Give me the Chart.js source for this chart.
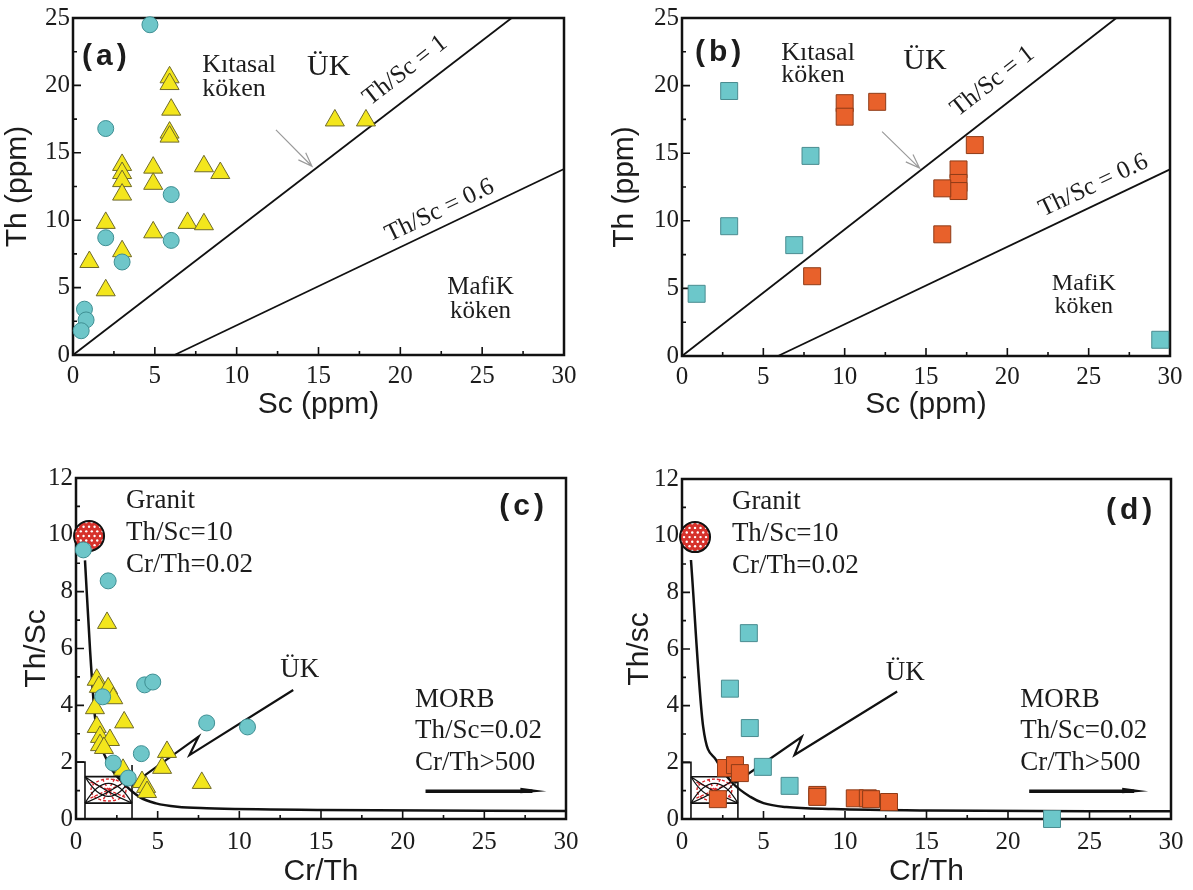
<!DOCTYPE html>
<html>
<head>
<meta charset="utf-8">
<script src="https://cdn.jsdelivr.net/npm/chart.js@4.4.1/dist/chart.umd.min.js"></script>
<style>
  body { margin: 0; background: #fff; width: 1193px; height: 890px; position: relative; overflow: hidden; }
  canvas { position: absolute; }
</style>
</head>
<body>
<canvas id="chartA" width="596" height="430" style="left:0;top:0"></canvas>
<canvas id="chartB" width="593" height="430" style="left:600px;top:0"></canvas>
<canvas id="chartC" width="596" height="445" style="left:0;top:445px"></canvas>
<canvas id="chartD" width="593" height="445" style="left:600px;top:445px"></canvas>
<script>
// (a) Th vs Sc
const aCircleSc = [4.7, 2.0, 6.0, 2.0, 6.0, 3.0, 0.7, 0.8, 0.5];
const aCircleTh = [24.5, 16.8, 11.9, 8.7, 8.5, 6.9, 3.4, 2.6, 1.8];
const aTriSc = [5.9, 5.9, 6.0, 5.9, 5.9, 3.0, 3.0, 3.0, 3.0, 4.9, 4.9, 8.0, 9.0, 2.0, 4.9, 7.0, 8.0, 3.0, 1.0, 2.0, 16.0, 17.9];
const aTriTh = [20.6, 20.1, 18.2, 16.5, 16.2, 14.1, 13.5, 12.9, 11.9, 13.9, 12.7, 14.0, 13.5, 9.8, 9.1, 9.8, 9.7, 7.7, 6.9, 4.8, 17.4, 17.4];

// (b) Th vs Sc
const bCyanSc = [2.9, 7.9, 2.9, 6.9, 0.9, 29.4];
const bCyanTh = [19.6, 14.8, 9.6, 8.2, 4.6, 1.2];
const bOrangeSc = [10.0, 10.0, 12.0, 8.0, 18.0, 17.0, 17.0, 17.0, 16.0, 16.0];
const bOrangeTh = [18.7, 17.7, 18.8, 5.9, 15.6, 13.8, 12.8, 12.2, 12.4, 9.0];

// Th/Sc reference lines, as drawn in (a) and (b)
const aLine1Sc = [0, 26.8], aLine1Th = [0, 25];
const aLine06Sc = [6.2, 30], aLine06Th = [0, 13.8];
const bLine1Sc = [0, 26.7], bLine1Th = [0, 25];
const bLine06Sc = [5.9, 30], bLine06Th = [0, 13.8];

// (c) Th/Sc vs Cr/Th
const cCircleCrTh = [0.45, 1.97, 4.2, 4.7, 1.63, 8.0, 10.5, 4.0, 2.28, 3.2];
const cCircleThSc = [9.47, 8.38, 4.72, 4.82, 4.3, 3.38, 3.24, 2.3, 1.97, 1.44];
const cTriCrTh = [1.9, 1.27, 1.4, 1.97, 2.28, 1.16, 2.95, 1.27, 1.47, 2.08, 1.47, 1.71, 5.57, 5.27, 2.88, 4.04, 4.29, 4.35, 7.7];
const cTriThSc = [6.9, 4.9, 4.65, 4.6, 4.25, 3.9, 3.4, 3.24, 2.89, 2.78, 2.6, 2.5, 2.36, 1.8, 1.73, 1.3, 1.13, 0.95, 1.27];

// (d) Th/Sc vs Cr/Th
const dCyanCrTh = [4.1, 2.94, 4.16, 4.96, 6.6, 22.7];
const dCyanThSc = [6.56, 4.6, 3.21, 1.84, 1.17, 0.0];
const dOrangeCrTh = [2.7, 3.25, 3.55, 2.2, 8.3, 8.3, 10.6, 11.4, 11.6, 12.7];
const dOrangeThSc = [1.8, 1.9, 1.62, 0.7, 0.85, 0.78, 0.73, 0.73, 0.7, 0.6];

// mixing curves and UK trend lines
const cCurveCrTh = [0.55, 0.86, 1.16, 1.47, 2.08, 2.9, 3.9, 4.9, 6.2, 8.0, 15, 30];
const cCurveThSc = [9.1, 5.95, 3.6, 2.7, 1.85, 1.26, 0.77, 0.55, 0.43, 0.38, 0.32, 0.28];
const dCurveCrTh = [0.55, 1.3, 2.1, 3.1, 4.2, 5.0, 6.4, 9.3, 15, 30];
const dCurveThSc = [9.14, 3.25, 2.08, 1.27, 0.78, 0.56, 0.42, 0.35, 0.3, 0.27];
const cUkCrTh = [3.4, 7.5, 6.95, 13.3], cUkThSc = [1.2, 2.9, 2.25, 4.54];
const dUkCrTh = [3.25, 7.35, 6.9, 13.2], dUkThSc = [1.27, 2.9, 2.26, 4.5];

const xTicks = [0, 5, 10, 15, 20, 25, 30];

const SERIF = 'Liberation Serif';
const SANS = 'Liberation Sans';
const INK = '#1c1c1c';

function pts(xs, ys) { return xs.map((x, i) => ({ x: x, y: ys[i] })); }

function marks(xs, ys, style, fill, edge, radius) {
  return { data: pts(xs, ys), pointStyle: style, pointRadius: radius, backgroundColor: fill,
           borderColor: edge, pointBorderWidth: 1, showLine: false, clip: false };
}
function line(xs, ys, width, smooth) {
  return { data: pts(xs, ys), showLine: true, pointRadius: 0, borderColor: '#111', borderWidth: width,
           cubicInterpolationMode: smooth ? 'monotone' : 'default', fill: false, clip: false };
}

function px(chart, x, y) { return [chart.scales.x.getPixelForValue(x), chart.scales.y.getPixelForValue(y)]; }

function text(chart, s, x, y, size, align, opts) {
  opts = opts || {};
  const ctx = chart.ctx;
  const [X, Y] = px(chart, x, y);
  ctx.save();
  ctx.fillStyle = INK;
  ctx.font = (opts.bold ? 'bold ' : '') + size + 'px ' + (opts.family || SERIF);
  ctx.textAlign = align;
  ctx.textBaseline = opts.baseline || 'alphabetic';
  if (opts.spacing) ctx.letterSpacing = opts.spacing;
  ctx.translate(X, Y);
  if (opts.angle) ctx.rotate(opts.angle);
  ctx.fillText(s, 0, 0);
  ctx.restore();
}

function lineAngle(chart, xs, ys) {
  const a = px(chart, xs[0], ys[0]), b = px(chart, xs[1], ys[1]);
  return Math.atan2(b[1] - a[1], b[0] - a[0]);
}

function grayArrow(chart, x0, y0, x1, y1) {
  const ctx = chart.ctx;
  const a = px(chart, x0, y0), b = px(chart, x1, y1);
  const ang = Math.atan2(b[1] - a[1], b[0] - a[0]);
  ctx.save();
  ctx.strokeStyle = '#9a9a9a';
  ctx.lineWidth = 1.2;
  ctx.beginPath();
  ctx.moveTo(a[0], a[1]); ctx.lineTo(b[0], b[1]);
  ctx.moveTo(b[0] - 15 * Math.cos(ang - 0.35), b[1] - 15 * Math.sin(ang - 0.35));
  ctx.lineTo(b[0], b[1]);
  ctx.lineTo(b[0] - 15 * Math.cos(ang + 0.35), b[1] - 15 * Math.sin(ang + 0.35));
  ctx.stroke();
  ctx.restore();
}

function morbArrow(chart, x0, x1, y) {
  const ctx = chart.ctx;
  const a = px(chart, x0, y), b = px(chart, x1, y);
  ctx.save();
  ctx.strokeStyle = '#111'; ctx.fillStyle = '#111';
  ctx.lineWidth = 3.5;
  ctx.beginPath(); ctx.moveTo(a[0], a[1]); ctx.lineTo(b[0] - 14, b[1]); ctx.stroke();
  ctx.beginPath();
  ctx.moveTo(b[0], b[1]); ctx.lineTo(b[0] - 26, b[1] - 3.5); ctx.lineTo(b[0] - 26, b[1] + 2); ctx.closePath();
  ctx.fill();
  ctx.restore();
}

function granite(chart, gx, gy) {
  const ctx = chart.ctx;
  const [cx, cy] = px(chart, gx, gy);
  const r = 15;
  ctx.save();
  ctx.beginPath(); ctx.arc(cx, cy, r, 0, Math.PI * 2);
  ctx.fillStyle = '#d6312b'; ctx.fill();
  ctx.save();
  ctx.clip();
  ctx.fillStyle = '#fff';
  for (let j = -4; j <= 4; j++) {
    for (let i = -4; i <= 4; i++) {
      ctx.beginPath();
      ctx.arc(cx + i * 5.5 + (j % 2 ? 2.7 : 0), cy + j * 4.6, 1.2, 0, Math.PI * 2);
      ctx.fill();
    }
  }
  ctx.restore();
  ctx.beginPath(); ctx.arc(cx, cy, r, 0, Math.PI * 2);
  ctx.strokeStyle = '#111'; ctx.lineWidth = 2; ctx.stroke();
  ctx.restore();
}

function crustBox(chart) {
  const ctx = chart.ctx;
  const P = (x, y) => px(chart, x, y);
  const L = 0.55, R = 3.43, T = 1.49, B = 0.56;
  ctx.save();
  // red dashed field
  const c = P((L + R) / 2, 1.02);
  const [l] = P(L, 0), [r] = P(R, 0);
  ctx.strokeStyle = '#d9262a'; ctx.lineWidth = 1.4; ctx.setLineDash([3, 2]);
  ctx.beginPath(); ctx.ellipse(c[0], c[1], (r - l) / 2 - 6, 11, 0, 0, Math.PI * 2); ctx.stroke();
  ctx.beginPath();
  ctx.moveTo(c[0] - 18, c[1] - 8); ctx.lineTo(c[0] + 18, c[1] + 8);
  ctx.moveTo(c[0] - 18, c[1] + 8); ctx.lineTo(c[0] + 18, c[1] - 8);
  ctx.moveTo(c[0] - 6, c[1] - 11); ctx.lineTo(c[0] + 6, c[1] + 11);
  ctx.moveTo(c[0] + 6, c[1] - 11); ctx.lineTo(c[0] - 6, c[1] + 11);
  ctx.stroke();
  ctx.setLineDash([]);
  // black outline
  ctx.strokeStyle = '#111'; ctx.lineWidth = 1.6;
  ctx.beginPath();
  let p = P(0, 2); ctx.moveTo(p[0], p[1]);
  p = P(L, 2); ctx.lineTo(p[0], p[1]);
  p = P(L, 0); ctx.lineTo(p[0], p[1]);
  p = P(R, 1.9); ctx.moveTo(p[0], p[1]);
  p = P(R, 0); ctx.lineTo(p[0], p[1]);
  p = P(L, T); ctx.moveTo(p[0], p[1]); p = P(R, T); ctx.lineTo(p[0], p[1]);
  p = P(L, B); ctx.moveTo(p[0], p[1]); p = P(R, B); ctx.lineTo(p[0], p[1]);
  ctx.stroke();
  ctx.lineWidth = 1.2;
  ctx.beginPath();
  let a = P(L, T), k = P(2.0, 0.9), b = P(R, B);
  ctx.moveTo(a[0], a[1]); ctx.quadraticCurveTo(k[0], k[1], b[0], b[1]);
  a = P(L, B); k = P(2.0, 0.9); b = P(R, T);
  ctx.moveTo(a[0], a[1]); ctx.quadraticCurveTo(k[0], k[1], b[0], b[1]);
  a = P(L, B); k = P(2.0, 1.95); b = P(R, B);
  ctx.moveTo(a[0], a[1]); ctx.quadraticCurveTo(k[0], k[1], b[0], b[1]);
  a = P(L, T); k = P(2.0, 0.1); b = P(R, T);
  ctx.moveTo(a[0], a[1]); ctx.quadraticCurveTo(k[0], k[1], b[0], b[1]);
  ctx.stroke();
  ctx.restore();
}

// frame box and inward ticks
const frameTicks = {
  id: 'frameTicks',
  beforeDatasetsDraw(chart) {
    const { ctx, chartArea: a, scales: { x, y } } = chart;
    ctx.save();
    ctx.strokeStyle = '#111';
    ctx.lineWidth = 1.6;
    ctx.beginPath();
    x.ticks.forEach((t, i) => {
      const p = x.getPixelForValue(t.value);
      ctx.moveTo(p, a.bottom); ctx.lineTo(p, a.bottom - 8);
      if (i < x.ticks.length - 1) {
        const m = x.getPixelForValue((t.value + x.ticks[i + 1].value) / 2);
        ctx.moveTo(m, a.bottom); ctx.lineTo(m, a.bottom - 4);
      }
    });
    y.ticks.forEach((t, i) => {
      const p = y.getPixelForValue(t.value);
      ctx.moveTo(a.left, p); ctx.lineTo(a.left + 8, p);
      if (i < y.ticks.length - 1) {
        const m = y.getPixelForValue((t.value + y.ticks[i + 1].value) / 2);
        ctx.moveTo(a.left, m); ctx.lineTo(a.left + 4, m);
      }
    });
    ctx.stroke();
    ctx.lineWidth = 2.5;
    ctx.strokeRect(a.left, a.top, a.right - a.left, a.bottom - a.top);
    ctx.restore();
  }
};

function panel(id, cfg) {
  return new Chart(document.getElementById(id), {
    type: 'scatter',
    data: { datasets: cfg.datasets },
    options: {
      responsive: false,
      animation: false,
      events: [],
      layout: { padding: cfg.pad },
      plugins: { legend: { display: false }, tooltip: { enabled: false } },
      scales: {
        x: {
          type: 'linear', min: 0, max: 30,
          afterFit: s => { s.height = cfg.xh; },
          afterBuildTicks: s => { s.ticks = xTicks.map(v => ({ value: v })); },
          grid: { display: false, drawTicks: false },
          border: { display: false },
          ticks: { padding: cfg.xpad, color: INK, maxRotation: 0, autoSkip: false,
                   font: { family: SERIF, size: 25 } },
          title: { display: true, text: cfg.xTitle, color: INK, padding: 0,
                   font: { family: SANS, size: 30 } }
        },
        y: {
          type: 'linear', min: 0, max: cfg.yTicks[cfg.yTicks.length - 1],
          afterFit: s => { s.width = cfg.yw; },
          afterBuildTicks: s => { s.ticks = cfg.yTicks.map(v => ({ value: v })); },
          grid: { display: false, drawTicks: false },
          border: { display: false },
          ticks: { padding: 3, color: INK, autoSkip: false, font: { family: SERIF, size: 25 } },
          title: { display: true, text: cfg.yTitle, color: INK, padding: 0,
                   font: { family: SANS, size: 30 } }
        }
      }
    },
    plugins: [frameTicks, { id: 'decor', beforeDatasetsDraw: cfg.under, afterDatasetsDraw: cfg.over }]
  });
}

const thTicks = [0, 5, 10, 15, 20, 25];
const ratioTicks = [0, 2, 4, 6, 8, 10, 12];

panel('chartA', {
  pad: { left: 0, top: 15, right: 32, bottom: 7.5 }, xh: 67.5, yw: 73, xpad: 6,
  xTitle: 'Sc (ppm)', yTitle: 'Th (ppm)', yTicks: thTicks,
  datasets: [
    marks(aCircleSc, aCircleTh, 'circle', '#6ec6c9', '#3f8f93', 8),
    marks(aTriSc, aTriTh, 'triangle', '#f3e61c', '#6f6a2a', 11),
    line(aLine1Sc, aLine1Th, 1.8),
    line(aLine06Sc, aLine06Th, 1.8)
  ],
  under: c => { grayArrow(c, 12.4, 16.7, 14.6, 14.0); },
  over: c => {
    text(c, '(a)', 0.55, 22.1, 30, 'left', { bold: true, family: SANS, baseline: 'middle', spacing: '4px' });
    text(c, 'Kıtasal', 7.9, 21.0, 26, 'left');
    text(c, 'köken', 7.9, 19.2, 26, 'left');
    text(c, 'ÜK', 14.3, 20.8, 30, 'left');
    text(c, 'Th/Sc = 1', 20.3, 21.1, 25, 'center', { baseline: 'middle', angle: lineAngle(c, aLine1Sc, aLine1Th) });
    text(c, 'Th/Sc = 0.6', 22.4, 10.7, 25, 'center', { baseline: 'middle', angle: lineAngle(c, aLine06Sc, aLine06Th) });
    text(c, 'MafiK', 24.9, 4.56, 25, 'center');
    text(c, 'köken', 24.9, 2.72, 25, 'center');
  }
});

panel('chartB', {
  pad: { left: 7, top: 16, right: 23, bottom: 7.5 }, xh: 66.5, yw: 75, xpad: 6,
  xTitle: 'Sc (ppm)', yTitle: 'Th (ppm)', yTicks: thTicks,
  datasets: [
    marks(bCyanSc, bCyanTh, 'rect', '#6cc7ca', '#4a8c90', 12),
    marks(bOrangeSc, bOrangeTh, 'rect', '#e8612b', '#8e3b17', 12),
    line(bLine1Sc, bLine1Th, 1.8),
    line(bLine06Sc, bLine06Th, 1.8)
  ],
  under: c => { grayArrow(c, 12.3, 16.6, 14.6, 13.9); },
  over: c => {
    text(c, '(b)', 0.8, 22.4, 30, 'left', { bold: true, family: SANS, baseline: 'middle', spacing: '4px' });
    text(c, 'Kıtasal', 6.1, 21.9, 26, 'left');
    text(c, 'köken', 6.1, 20.3, 26, 'left');
    text(c, 'ÜK', 13.6, 21.25, 30, 'left');
    text(c, 'Th/Sc = 1', 19.1, 20.3, 25, 'center', { baseline: 'middle', angle: lineAngle(c, bLine1Sc, bLine1Th) });
    text(c, 'Th/Sc = 0.6', 25.3, 12.6, 25, 'center', { baseline: 'middle', angle: lineAngle(c, bLine06Sc, bLine06Th) });
    text(c, 'MafiK', 24.7, 4.85, 24, 'center');
    text(c, 'köken', 24.7, 3.2, 24, 'center');
  }
});

function lowerNotes(c, granX, tagX, tagY, ukY) {
  text(c, 'Granit', granX, 10.95, 27, 'left');
  text(c, 'Th/Sc=10', granX, 9.82, 27, 'left');
  text(c, 'Cr/Th=0.02', granX, 8.7, 27, 'left');
  text(c, tagX.label, tagX.x, tagY, 30, 'right', { bold: true, family: SANS, baseline: 'middle', spacing: '4px' });
  text(c, 'ÜK', 12.5, ukY, 27, 'left');
  text(c, 'MORB', 20.75, 3.94, 27, 'left');
  text(c, 'Th/Sc=0.02', 20.75, 2.85, 27, 'left');
  text(c, 'Cr/Th>500', 20.75, 1.73, 27, 'left');
}

panel('chartC', {
  pad: { left: 19, top: 33, right: 30, bottom: 0.5 }, xh: 70.5, yw: 57, xpad: 8,
  xTitle: 'Cr/Th', yTitle: 'Th/Sc', yTicks: ratioTicks,
  datasets: [
    marks(cCircleCrTh, cCircleThSc, 'circle', '#6ec6c9', '#3f8f93', 8),
    marks(cTriCrTh, cTriThSc, 'triangle', '#f3e61c', '#6f6a2a', 11),
    line(cCurveCrTh, cCurveThSc, 2.5, true),
    line(cUkCrTh, cUkThSc, 2.2)
  ],
  under: c => { crustBox(c); granite(c, 0.8, 9.96); morbArrow(c, 21.4, 28.8, 0.98); },
  over: c => { lowerNotes(c, 3.06, { label: '(c)', x: 28.9 }, 11.0, 5.0); }
});

panel('chartD', {
  pad: { left: 22, top: 34, right: 22, bottom: 0.5 }, xh: 70.5, yw: 60, xpad: 8,
  xTitle: 'Cr/Th', yTitle: 'Th/sc', yTicks: ratioTicks,
  datasets: [
    marks(dCyanCrTh, dCyanThSc, 'rect', '#6cc7ca', '#4a8c90', 12),
    marks(dOrangeCrTh, dOrangeThSc, 'rect', '#e8612b', '#8e3b17', 12),
    line(dCurveCrTh, dCurveThSc, 2.5, true),
    line(dUkCrTh, dUkThSc, 2.2)
  ],
  under: c => { crustBox(c); granite(c, 0.8, 9.95); morbArrow(c, 21.3, 28.6, 0.98); },
  over: c => { lowerNotes(c, 3.06, { label: '(d)', x: 29.1 }, 10.87, 4.9); }
});
</script>
</body>
</html>
